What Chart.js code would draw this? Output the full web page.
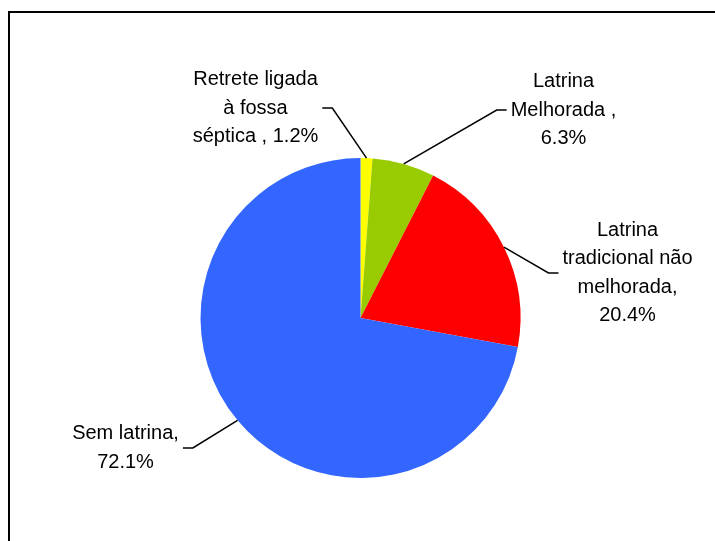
<!DOCTYPE html>
<html>
<head>
<meta charset="utf-8">
<script src="https://cdn.jsdelivr.net/npm/chart.js@4"></script>
<style>
  html, body { margin: 0; padding: 0; background: #fff; }
  #wrap { position: relative; width: 715px; height: 541px; overflow: hidden; }
  #frame { position: absolute; left: 8px; top: 11px; width: 900px; height: 700px; border: 2px solid #000; }
  canvas { position: absolute; left: 0; top: 0; }
</style>
</head>
<body>
<div id="wrap">
  <div id="frame"></div>
  <canvas id="chart" width="715" height="541"></canvas>
</div>
<script>
// data
const categories = [
  "Retrete ligada à fossa séptica",
  "Latrina Melhorada",
  "Latrina tradicional não melhorada",
  "Sem latrina"
];
const values = [1.2, 6.3, 20.4, 72.1];
const labelLines = [
  ["Retrete ligada", "à fossa", "séptica , {v}"],
  ["Latrina", "Melhorada ,", "{v}"],
  ["Latrina", "tradicional não", "melhorada,", "{v}"],
  ["Sem latrina,", "{v}"]
];

const colors = ["#FFFF00", "#99CC00", "#FF0000", "#3366FF"];
// label block centre, offset from pie centre (px)
const labelOffsets = [
  { dx: -105, dy: -210 },
  { dx: 203, dy: -208 },
  { dx: 267, dy: -45 },
  { dx: -235, dy: 130 }
];

const FONT = '20px "Liberation Sans", Arial, sans-serif';
const LINE_H = 28.5;

const leaderLabels = {
  id: "leaderLabels",
  afterDatasetsDraw(chart) {
    const ctx = chart.ctx;
    const arcs = chart.getDatasetMeta(0).data;
    ctx.save();
    ctx.font = FONT;
    ctx.fillStyle = "#000";
    ctx.strokeStyle = "#000";
    ctx.lineWidth = 1.5;
    ctx.textAlign = "center";
    ctx.textBaseline = "middle";
    arcs.forEach((arc, i) => {
      const { x, y, startAngle, endAngle, outerRadius } = arc.getProps(["x", "y", "startAngle", "endAngle", "outerRadius"], true);
      const mid = (startAngle + endAngle) / 2;
      const ax = x + Math.cos(mid) * outerRadius;
      const ay = y + Math.sin(mid) * outerRadius;
      const lines = labelLines[i].map(s => s.replace("{v}", values[i].toFixed(1) + "%"));
      const cx = x + labelOffsets[i].dx;
      const cy = y + labelOffsets[i].dy;
      const w = Math.max(...lines.map(s => ctx.measureText(s).width));
      const top = cy - (lines.length - 1) * LINE_H / 2;
      lines.forEach((s, k) => ctx.fillText(s, cx, top + k * LINE_H));
      const right = ax > cx;
      const ex = right ? cx + w / 2 + 4 : cx - w / 2 - 4;
      const bx = right ? ex + 10 : ex - 10;
      ctx.beginPath();
      ctx.moveTo(ax, ay);
      ctx.lineTo(bx, cy);
      ctx.lineTo(ex, cy);
      ctx.stroke();
    });
    ctx.restore();
  }
};

new Chart(document.getElementById("chart"), {
  type: "pie",
  data: {
    labels: categories,
    datasets: [{
      data: values,
      backgroundColor: colors,
      borderWidth: 0
    }]
  },
  options: {
    responsive: false,
    animation: false,
    events: [],
    layout: { padding: { left: 200.5, right: 194.5, top: 158, bottom: 63 } },
    plugins: {
      legend: { display: false },
      tooltip: { enabled: false }
    }
  },
  plugins: [leaderLabels]
});
</script>
</body>
</html>
